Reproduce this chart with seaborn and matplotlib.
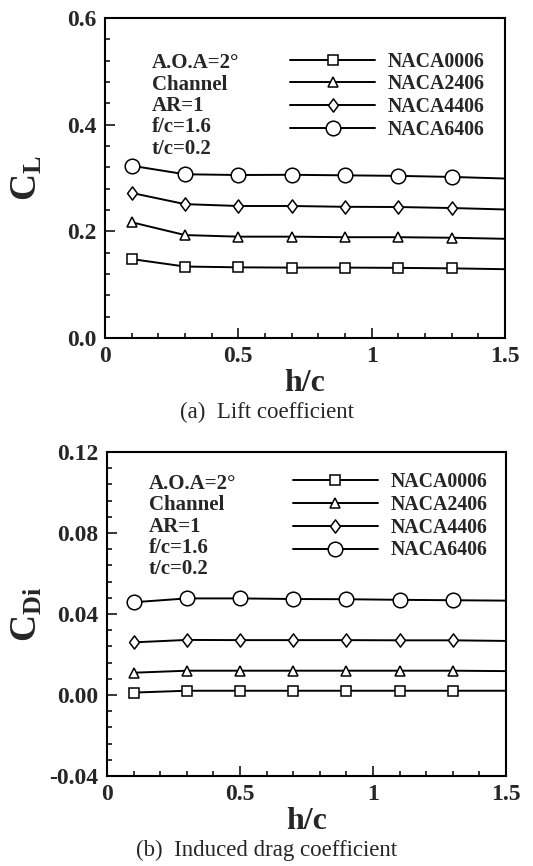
import numpy as np
import pandas as pd
import matplotlib
matplotlib.use("Agg")
import matplotlib.pyplot as plt
from matplotlib.lines import Line2D
from matplotlib.path import Path
from matplotlib.ticker import MultipleLocator
import seaborn as sns

# ---- data -------------------------------------------------------------
h_over_c = [0.1, 0.3, 0.5, 0.7, 0.9, 1.1, 1.3, 1.5]
foils = ["NACA0006", "NACA2406", "NACA4406", "NACA6406"]

cl_0006 = [0.148, 0.134, 0.1325, 0.132, 0.132, 0.1315, 0.1306, 0.129]
cl_2406 = [0.217, 0.193, 0.190, 0.190, 0.189, 0.189, 0.188, 0.186]
cl_4406 = [0.272, 0.251, 0.2475, 0.2475, 0.246, 0.2456, 0.2437, 0.241]
cl_6406 = [0.323, 0.307, 0.3056, 0.306, 0.305, 0.304, 0.302, 0.299]

cdi_0006 = [0.0012, 0.0021, 0.0021, 0.0021, 0.0021, 0.0021, 0.0021, 0.0021]
cdi_2406 = [0.0110, 0.0120, 0.0120, 0.0120, 0.0120, 0.0120, 0.0120, 0.0118]
cdi_4406 = [0.0260, 0.0272, 0.0271, 0.0271, 0.0271, 0.0270, 0.0270, 0.0267]
cdi_6406 = [0.0458, 0.0477, 0.0477, 0.0474, 0.0473, 0.0470, 0.0468, 0.0466]

conditions = "A.O.A=2°\nChannel\nAR=1\nf/c=1.6\nt/c=0.2"

x_ticks = [0, 0.5, 1, 1.5]
x_ticklabels = ["0", "0.5", "1", "1.5"]
cl_ticks = [0.0, 0.2, 0.4, 0.6]
cl_ticklabels = ["0.0", "0.2", "0.4", "0.6"]
cdi_ticks = [-0.04, 0.0, 0.04, 0.08, 0.12]
cdi_ticklabels = ["-0.04", "0.00", "0.04", "0.08", "0.12"]

# ---- style ------------------------------------------------------------
sns.set_theme(style="ticks")
plt.rcParams["font.family"] = ["Liberation Serif", "DejaVu Serif"]
plt.rcParams["font.weight"] = "bold"
plt.rcParams["mathtext.fontset"] = "custom"
plt.rcParams["mathtext.rm"] = "Liberation Serif:bold"
plt.rcParams["mathtext.it"] = "Liberation Serif:bold"
plt.rcParams["mathtext.bf"] = "Liberation Serif:bold"

diamond = Path([(0, 1), (0.75, 0), (0, -1), (-0.75, 0), (0, 1)],
               [Path.MOVETO, Path.LINETO, Path.LINETO, Path.LINETO, Path.CLOSEPOLY])
marker_style = {
    "NACA0006": dict(marker="s", ms=7.0),
    "NACA2406": dict(marker="^", ms=7.5),
    "NACA4406": dict(marker=diamond, ms=9.5),
    "NACA6406": dict(marker="o", ms=10.5),
}

W, H = 533, 866
fig = plt.figure(figsize=(W / 100, H / 100), dpi=100)
fig.patch.set_facecolor("white")

NOTE_SIZE = 15
LEG_SIZE = 14.3


def axes_px(left, top, right, bottom):
    return fig.add_axes([left / W, 1 - bottom / H, (right - left) / W, (bottom - top) / H])


def draw_panel(ax, series, yticks, yticklabels, ylabel, yminor, ylim,
               ylabel_x, note_xy, legend_xy):
    n_mark = len(h_over_c) - 1
    handles = []
    for name, vals in zip(foils, series):
        df = pd.DataFrame({"h/c": h_over_c, "val": vals})
        st = marker_style[name]
        sns.lineplot(data=df, x="h/c", y="val", ax=ax, color="black", lw=1.4,
                     marker=st["marker"], ms=st["ms"], mfc="white", mec="black",
                     mew=1.1, markevery=list(range(n_mark)), sort=True,
                     errorbar=None)
        handles.append(Line2D([], [], color="black", lw=1.4, marker=st["marker"],
                              ms=st["ms"], mfc="white", mec="black", mew=1.1))
    ax.set_xlim(0, 1.5)
    ax.set_ylim(*ylim)
    ax.set_xticks(x_ticks, x_ticklabels)
    ax.set_yticks(yticks, yticklabels)
    ax.xaxis.set_minor_locator(MultipleLocator(0.1))
    ax.yaxis.set_minor_locator(MultipleLocator(yminor))
    ax.tick_params(which="both", direction="in", top=False, right=False,
                   width=1.1, color="black")
    ax.tick_params(which="major", length=7, labelsize=17, pad=6)
    ax.tick_params(which="minor", length=3.5)
    for lab in ax.get_xticklabels() + ax.get_yticklabels():
        lab.set_fontweight("bold")
    for sp in ax.spines.values():
        sp.set_linewidth(1.5)
        sp.set_color("black")
        sp.set_visible(True)
    ax.set_xlabel("h/c", fontsize=23, fontweight="bold", labelpad=1)
    ax.set_ylabel(ylabel, fontsize=27, fontweight="bold", va="center")
    ax.yaxis.set_label_coords(ylabel_x, 0.5)
    ax.text(note_xy[0], note_xy[1], conditions, transform=ax.transAxes,
            ha="left", va="top", fontsize=NOTE_SIZE, fontweight="bold",
            linespacing=1.09)
    leg = ax.legend(handles, foils, loc="upper left", bbox_to_anchor=legend_xy,
                    frameon=False, fontsize=LEG_SIZE, handlelength=4.28,
                    handletextpad=0.65, labelspacing=0.135, borderpad=0,
                    borderaxespad=0, numpoints=1)
    for t in leg.get_texts():
        t.set_fontweight("bold")
    ax.set_facecolor("white")


ax1 = axes_px(105, 18, 505, 338)
draw_panel(ax1, [cl_0006, cl_2406, cl_4406, cl_6406], cl_ticks, cl_ticklabels,
           r"C$_\mathrm{L}$", 0.04, (0.0, 0.6),
           ylabel_x=-0.195, note_xy=(0.1175, 0.89), legend_xy=(0.4625, 0.895))

ax2 = axes_px(107, 452, 506, 776)
draw_panel(ax2, [cdi_0006, cdi_2406, cdi_4406, cdi_6406], cdi_ticks, cdi_ticklabels,
           r"C$_\mathrm{Di}$", 0.008, (-0.04, 0.12),
           ylabel_x=-0.2, note_xy=(0.105, 0.932), legend_xy=(0.466, 0.937))

fig.text(0.5, 1 - 412 / H, "(a)  Lift coefficient", ha="center", va="center",
         fontsize=16.5, fontweight="normal")
fig.text(0.5, 1 - 850 / H, "(b)  Induced drag coefficient", ha="center", va="center",
         fontsize=16.5, fontweight="normal")

fig.savefig("out.png", dpi=100, facecolor="white")
